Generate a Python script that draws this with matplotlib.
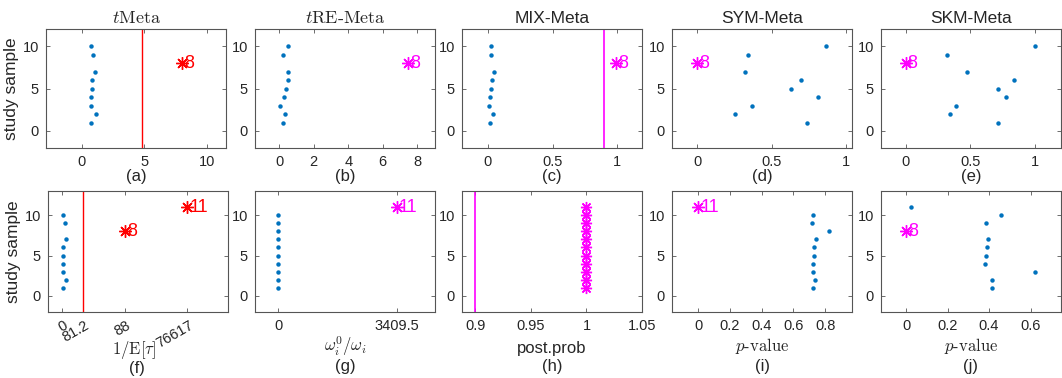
import numpy as np
import matplotlib
matplotlib.use('Agg')
import matplotlib.pyplot as plt
from matplotlib.ticker import FuncFormatter
import matplotlib.transforms as mtransforms

plt.rcParams['font.family'] = ['Liberation Sans', 'DejaVu Sans']
plt.rcParams['mathtext.fontset'] = 'cm'

# ---------------- data ----------------
# top row (studies 1..10, study 8 is the outlier)
top_y = [1, 2, 3, 4, 5, 6, 7, 9, 10]
a_x = [0.70, 1.14, 0.75, 0.70, 0.80, 0.80, 1.06, 0.93, 0.72]
a_out_x, a_out_y, a_thr = [7.97], [8], 4.83
b_x = [0.23, 0.35, 0.06, 0.29, 0.39, 0.50, 0.52, 0.23, 0.52]
b_out_x, b_out_y = [7.48], [8]
c_x = [0.013, 0.036, 0.005, 0.015, 0.021, 0.028, 0.046, 0.021, 0.026]
c_out_x, c_out_y, c_thr = [0.99], [8], 0.9
d_x = [0.740, 0.252, 0.369, 0.810, 0.628, 0.698, 0.318, 0.338, 0.867]
d_out_x, d_out_y = [0.0], [8]
e_x = [0.715, 0.339, 0.386, 0.772, 0.712, 0.837, 0.477, 0.319, 1.000]
e_out_x, e_out_y = [0.0], [8]

# bottom row (studies 1..11)
f_y = [1, 2, 3, 4, 5, 6, 7, 9, 10]
f_x = [3.9, 14.3, 5.4, 5.4, 5.4, 5.4, 14.3, 10.4, 5.4]
f_out_x, f_out_y, f_thr = [88, 76617], [8, 11], 81.2
f_tick_vals = [0, 81.2, 88, 76617]
f_tick_labels = ['0', '81.2', '88', '76617']
g_y = [1, 2, 3, 4, 5, 6, 7, 8, 9, 10]
g_x = [0, 0, 0, 0, 0, 0, 0, 0, 0, 0]
g_out_x, g_out_y = [3409.5], [11]
h_out_x = [1] * 11
h_out_y = list(range(1, 12))
h_thr = 0.9
i_y = [1, 2, 3, 4, 5, 6, 7, 8, 9, 10]
i_x = [0.722, 0.739, 0.722, 0.722, 0.732, 0.732, 0.743, 0.822, 0.716, 0.726]
i_out_x, i_out_y = [0.0], [11]
j_y = [1, 2, 3, 4, 5, 6, 7, 9, 10, 11]
j_x = [0.416, 0.413, 0.623, 0.379, 0.387, 0.389, 0.394, 0.387, 0.458, 0.026]
j_out_x, j_out_y = [0.0], [8]

BLUE = '#0072BD'
RED = '#FF0000'
MAG = '#FF00FF'
AXC = '#555555'
TXC = '#262626'

W, H = 1062, 378
fig = plt.figure(figsize=(W / 100, H / 100), dpi=100)

lefts = [46, 255, 462, 672, 881]
aw = 180


def make_ax(left, top, bottom):
    ax = fig.add_axes([left / W, 1 - bottom / H, aw / W, (bottom - top) / H])
    for s in ax.spines.values():
        s.set_color(AXC)
        s.set_linewidth(0.8)
    ax.tick_params(direction='in', top=True, right=True, length=3, width=0.6,
                   color=AXC, labelcolor=TXC, labelsize=10.5, pad=5)
    ax.set_yticks([0, 5, 10])
    ax.xaxis.set_major_formatter(FuncFormatter(lambda v, p: '%g' % v))
    return ax


def dots(ax, x, y):
    ax.plot(x, y, 'o', color=BLUE, ms=3.2, mew=0, ls='none')


def outl(ax, x, y, col):
    ax.plot(x, y, ls='none', marker=(8, 2, 0), ms=9, mew=1.0, color=col)
    for xx, yy in zip(x, y):
        ax.annotate(str(yy), (xx, yy), xytext=(1.5, 0), textcoords='offset points',
                    color=col, fontsize=13, va='center', ha='left')


def label(xc, yc, s, **kw):
    fig.text(xc / W, 1 - yc / H, s, ha='center', va='center', fontsize=12,
             color=TXC, **kw)


TOP_T, TOP_B = 29, 148
BOT_T, BOT_B = 191, 312

# ---- (a) tMeta
ax = make_ax(lefts[0], TOP_T, TOP_B)
dots(ax, a_x, top_y)
ax.axvline(a_thr, color=RED, lw=1.0)
outl(ax, a_out_x, a_out_y, RED)
ax.set_xlim(-2.85, 11.5)
ax.set_ylim(-2, 12)
ax.set_xticks([0, 5, 10])
ax.set_title(r'$t\mathrm{Meta}$', fontsize=13, pad=4, color=TXC)
ax.set_ylabel('study sample', fontsize=12.5, color=TXC, labelpad=3)

# ---- (b) tRE-Meta
ax = make_ax(lefts[1], TOP_T, TOP_B)
dots(ax, b_x, top_y)
outl(ax, b_out_x, b_out_y, MAG)
ax.set_xlim(-1.41, 9.03)
ax.set_ylim(-2, 12)
ax.set_xticks([0, 2, 4, 6, 8])
ax.set_title(r'$t\mathrm{RE}$-$\mathrm{Meta}$', fontsize=13, pad=4, color=TXC,
             fontfamily='cmr10')

# ---- (c) MIX-Meta
ax = make_ax(lefts[2], TOP_T, TOP_B)
dots(ax, c_x, top_y)
ax.axvline(c_thr, color=MAG, lw=1.2)
outl(ax, c_out_x, c_out_y, MAG)
ax.set_xlim(-0.2, 1.19)
ax.set_ylim(-2, 12)
ax.set_xticks([0, 0.5, 1])
ax.set_title('MIX-Meta', fontsize=12.5, pad=4, color=TXC)

# ---- (d) SYM-Meta
ax = make_ax(lefts[3], TOP_T, TOP_B)
dots(ax, d_x, top_y)
outl(ax, d_out_x, d_out_y, MAG)
ax.set_xlim(-0.17, 1.04)
ax.set_ylim(-2, 12)
ax.set_xticks([0, 0.5, 1])
ax.set_title('SYM-Meta', fontsize=12.5, pad=4, color=TXC)

# ---- (e) SKM-Meta
ax = make_ax(lefts[4], TOP_T, TOP_B)
dots(ax, e_x, top_y)
outl(ax, e_out_x, e_out_y, MAG)
ax.set_xlim(-0.19, 1.2)
ax.set_ylim(-2, 12)
ax.set_xticks([0, 0.5, 1])
ax.set_title('SKM-Meta', fontsize=12.5, pad=4, color=TXC)

for k, s in enumerate(['(a)', '(b)', '(c)', '(d)', '(e)']):
    label(lefts[k] + aw / 2, 177, s)

# ---- (f) warped axis
knot_pos = np.array([0.0, 1.0, 3.0, 6.0])
knot_val = np.array(f_tick_vals, dtype=float)


def f_fwd(x):
    x = np.asarray(x, dtype=float)
    out = np.interp(x, knot_val, knot_pos)
    s0 = (knot_pos[1] - knot_pos[0]) / (knot_val[1] - knot_val[0])
    s1 = (knot_pos[-1] - knot_pos[-2]) / (knot_val[-1] - knot_val[-2])
    out = np.where(x < knot_val[0], knot_pos[0] + (x - knot_val[0]) * s0, out)
    out = np.where(x > knot_val[-1], knot_pos[-1] + (x - knot_val[-1]) * s1, out)
    return out


def f_inv(p):
    p = np.asarray(p, dtype=float)
    out = np.interp(p, knot_pos, knot_val)
    s0 = (knot_val[1] - knot_val[0]) / (knot_pos[1] - knot_pos[0])
    s1 = (knot_val[-1] - knot_val[-2]) / (knot_pos[-1] - knot_pos[-2])
    out = np.where(p < knot_pos[0], knot_val[0] + (p - knot_pos[0]) * s0, out)
    out = np.where(p > knot_pos[-1], knot_val[-1] + (p - knot_pos[-1]) * s1, out)
    return out


ax = make_ax(48, BOT_T, BOT_B)
ax.set_xscale('function', functions=(f_fwd, f_inv))
dots(ax, f_x, f_y)
ax.axvline(f_thr, color=RED, lw=1.0)
outl(ax, f_out_x, f_out_y, RED)
ax.set_xlim(float(f_inv(-0.667)), float(f_inv(7.94)))
ax.set_ylim(-2, 13)
ax.set_xticks(f_tick_vals)
ax.set_xticklabels(f_tick_labels, rotation=30, ha='right', va='center',
                   rotation_mode='anchor')
ax.xaxis.set_minor_locator(matplotlib.ticker.NullLocator())
ax.tick_params(axis='x', pad=9)
shift = mtransforms.ScaledTranslation(5 / 100, 0, fig.dpi_scale_trans)
for lab in ax.get_xticklabels():
    lab.set_transform(lab.get_transform() + shift)
ax.set_ylabel('study sample', fontsize=12.5, color=TXC, labelpad=3)
label(134, 350, r'$1/\mathrm{E}[\tau]$')
label(137, 368, '(f)')

# ---- (g)
ax = make_ax(lefts[1], BOT_T, BOT_B)
dots(ax, g_x, g_y)
outl(ax, g_out_x, g_out_y, MAG)
ax.set_xlim(-671, 4512)
ax.set_ylim(-2, 13)
ax.set_xticks([0, 3409.5])
label(lefts[1] + aw / 2, 346, r'$\omega_i^0/\omega_i$')
label(lefts[1] + aw / 2, 366, '(g)')

# ---- (h)
ax = make_ax(lefts[2], BOT_T, BOT_B)
ax.axvline(h_thr, color=MAG, lw=1.2)
ax.plot(h_out_x[:-1], np.array(h_out_y[:-1]) + 0.5, ls='none', marker='o', ms=5,
        mfc='none', mec=MAG, mew=0.9)
ax.plot(h_out_x, h_out_y, ls='none', marker=(8, 2, 0), ms=8, mew=1.0, color=MAG)
ax.set_xlim(0.888, 1.05)
ax.set_ylim(-2, 13)
ax.set_xticks([0.9, 0.95, 1, 1.05])
label(lefts[2] + aw / 2, 348, 'post.prob')
label(lefts[2] + aw / 2, 366, '(h)')

# ---- (i)
ax = make_ax(lefts[3], BOT_T, BOT_B)
dots(ax, i_x, i_y)
outl(ax, i_out_x, i_out_y, MAG)
ax.set_xlim(-0.166, 0.970)
ax.set_ylim(-2, 13)
ax.set_xticks([0, 0.2, 0.4, 0.6, 0.8])
label(lefts[3] + aw / 2, 346, r'$p$-value', fontfamily='cmr10')
label(lefts[3] + aw / 2, 366, '(i)')

# ---- (j)
ax = make_ax(lefts[4], BOT_T, BOT_B)
dots(ax, j_x, j_y)
outl(ax, j_out_x, j_out_y, MAG)
ax.set_xlim(-0.121, 0.747)
ax.set_ylim(-2, 13)
ax.set_xticks([0, 0.2, 0.4, 0.6])
label(lefts[4] + aw / 2, 346, r'$p$-value', fontfamily='cmr10')
label(lefts[4] + aw / 2, 366, '(j)')

fig.savefig('out.png', dpi=100)
